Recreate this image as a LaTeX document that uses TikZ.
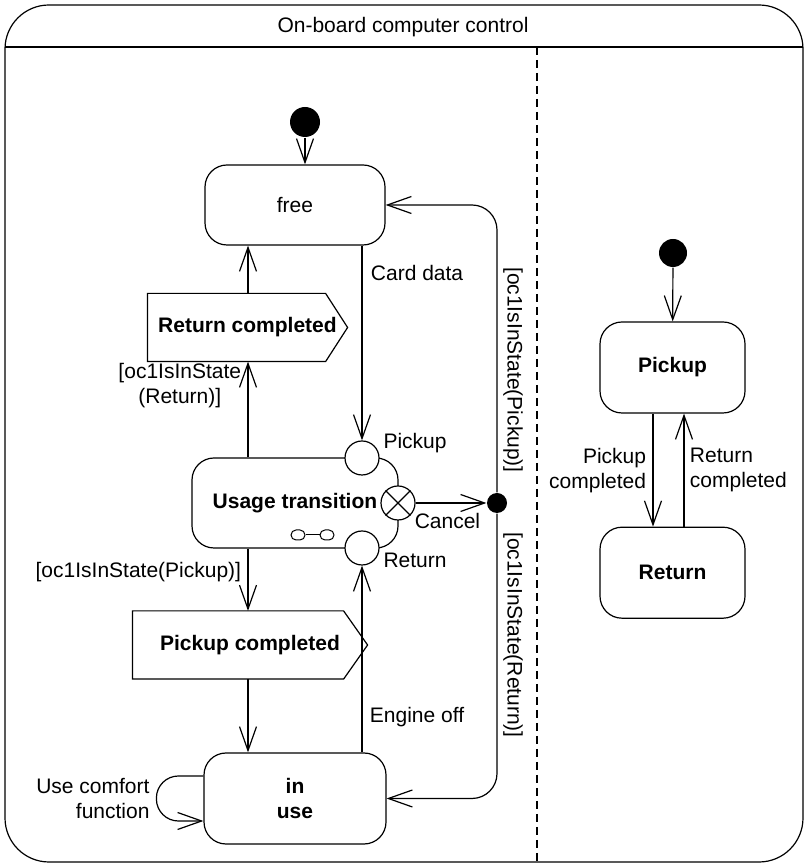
\documentclass[tikz,border=0pt]{standalone}
\usepackage{fontspec}
\setmainfont{Liberation Sans}
\usetikzlibrary{arrows.meta, positioning}

\begin{document}
\begin{tikzpicture}[x=1pt, y=1pt, line width=1.2pt,
  font=\fontsize{21}{25}\selectfont,
  stbox/.style={rectangle, rounded corners=22pt, draw, align=center,
                minimum width=182pt, minimum height=91pt},
  bold/.style={font=\fontsize{21}{25}\selectfont\bfseries},
  sigsend/.style={rectangle, bold, inner sep=0pt, minimum height=67pt},
  startdot/.style={circle, fill=black, inner sep=0pt, minimum size=30pt},
  entry/.style={circle, draw, fill=white, inner sep=0pt, minimum size=34pt},
  junction/.style={circle, fill=black, inner sep=0pt, minimum size=20pt},
  cicon/.style={rectangle, rounded corners=5pt, draw, inner sep=0pt, line width=1pt,
                minimum width=14pt, minimum height=10pt},
  arr/.style={-{Straight Barb[length=24pt, width=17pt]}}
]
  \useasboundingbox (0,0) rectangle (805,867);
  \draw[rounded corners=44pt] (5,5) rectangle (803,862);
  \node (title) at (403,840) {On-board computer control};
  \draw (5,820) -- (803,820);
  \draw[dash pattern=on 8pt off 5pt] (537,820) -- (537,5);

  \node[startdot] (start) at (305,745) {};
  \node[stbox, minimum width=180pt, minimum height=80pt] (free) at (295,662) {free};
  \node[sigsend, minimum width=199pt] (retc) at (247.5,539.5) {Return completed};
  \draw (retc.south west) -- ([xshift=-22pt]retc.south east) -- (retc.east)
    -- ([xshift=-22pt]retc.north east) -- (retc.north west) -- cycle;
  \node[stbox, bold, minimum width=206pt, minimum height=90pt] (usage) at (295,364) {Usage transition};
  \node[entry] (pin) at (362,409) {};
  \node[entry] (rin) at (362,319) {};
  \node[entry] (cancel) at (398,364) {};
  \draw (cancel.45) -- (cancel.225) (cancel.135) -- (cancel.315);
  \node[cicon] (cl) at (298,332) {};
  \node[cicon, right=14pt of cl] (cr) {};
  \draw[line width=1pt] (cl) -- (cr);
  \node[anchor=west] (lpick) at ([yshift=15pt]pin.east) {Pickup};
  \node[anchor=west] (lret) at ([yshift=-12pt]rin.east) {Return};
  \node[junction] (join) at (497,364) {};
  \node[sigsend, minimum width=234pt] (pickc) at (250,222) {Pickup completed};
  \draw (pickc.south west) -- ([xshift=-24pt]pickc.south east) -- (pickc.east)
    -- ([xshift=-24pt]pickc.north east) -- (pickc.north west) -- cycle;
  \node[stbox, bold] (inuse) at (295,68.5) {in\\use};
  \coordinate (lft) at (248,0);

  \draw[arr] (start) -- (start |- free.north);
  \draw[arr] (pin |- free.south) -- node[pos=.14, right, xshift=5pt] {Card data} (pin);
  \draw[arr] (usage.north -| lft) -- node[pos=.75, left, align=center, xshift=-3pt] {[oc1IsInState\\(Return)]} (retc.south -| lft);
  \draw[arr] (retc.north -| lft) -- (free.south -| lft);
  \draw[arr] (usage.south -| lft) -- node[pos=.38, left, xshift=-3pt] {[oc1IsInState(Pickup)]} (pickc.north -| lft);
  \draw[arr] (pickc.south -| lft) -- (inuse.north -| lft);
  \draw[arr] (inuse.north -| rin) -- node[pos=.19, right, xshift=4pt] {Engine off} (rin);
  \draw[arr, rounded corners=22pt] ([yshift=22.5pt]inuse.west) -- ++(-47,0) -- ++(0,-45)
    node[midway, left, align=right, xshift=-3pt] {Use comfort\\function} -- ([yshift=-22.5pt]inuse.west);
  \draw[arr] (cancel) -- node[pos=.45, below, yshift=-6pt] {Cancel} (join);
  \draw[arr, rounded corners=25pt] (join) -- (join |- free.east) -- (free.east);
  \draw[arr, rounded corners=25pt] (join) -- (join |- inuse.east) -- (inuse.east);
  \node[rotate=-90] (gpick) at (513,497) {[oc1IsInState(Pickup)]};
  \node[rotate=-90] (gret) at (513,232) {[oc1IsInState(Return)]};

  \node[startdot, minimum size=28pt] (start2) at (673,614) {};
  \node[stbox, bold, minimum width=145pt] (pick) at (672.5,499.5) {Pickup};
  \node[stbox, bold, minimum width=145pt, below=113pt of pick] (ret) {Return};
  \draw[arr] (start2) -- (pick);
  \draw[arr] ([xshift=-19.5pt]pick.south) -- node[left, align=right, xshift=-3pt] {Pickup\\completed} ([xshift=-19.5pt]ret.north);
  \draw[arr] ([xshift=11.5pt]ret.north) -- node[right, align=left, xshift=2pt] {Return\\completed} ([xshift=11.5pt]pick.south);
\end{tikzpicture}
\end{document}
